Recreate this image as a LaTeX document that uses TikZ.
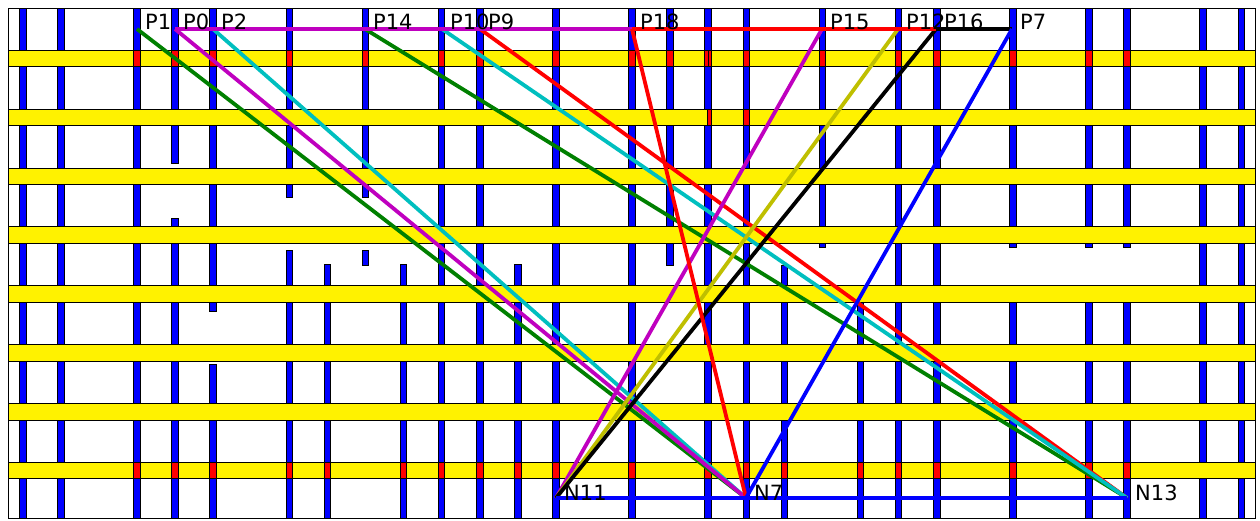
\documentclass[tikz,border=0pt]{standalone}
\usepackage{fontspec}
\setmainfont{DejaVu Sans}
\definecolor{mplg}{rgb}{0,0.5,0}
\definecolor{mplm}{rgb}{0.75,0,0.75}
\definecolor{mplc}{rgb}{0,0.75,0.75}
\definecolor{mply}{rgb}{0.75,0.75,0}
\tikzset{
  col/.style={draw=black, fill=blue, line width=0.8pt},
  bar/.style={draw=black, fill=yellow, line width=0.8pt},
  via/.style={draw=black, fill=red, line width=0.8pt},
  net/.style={line width=3.8pt},
  lbl/.style={anchor=base west, inner sep=0pt, font=\fontsize{21}{25}\selectfont},
}
\newcommand{\cx}[1]{22.7+38.08*#1}
\newcommand{\ry}[1]{58.5+58.85*#1}
\begin{document}
\begin{tikzpicture}[x=1pt,y=-1pt]
\useasboundingbox (0,0) rectangle (1260,520);
\fill[white] (0,0) rectangle (1260,520);
% columns
\foreach \k/\a/\b in {0/8/518,1/8/518,3/8/518,4/8/163,4/218/518,5/8/311,5/364/518,
  7/8/197,7/250/518,8/264/518,9/8/197,9/250/265,10/264/518,11/8/518,12/8/518,
  13/264/518,14/8/518,16/8/518,17/8/265,18/8/518,19/8/518,20/265/518,21/8/247,
  22/302/518,23/8/518,24/8/518,26/8/247,26/302/518,28/8/247,28/302/518,
  29/8/247,29/302/518,31/8/518,32/8/518}
  \draw[col] ({\cx{\k}-3.3},\a) rectangle ({\cx{\k}+3.3},\b);
% bars
\foreach \r in {0,...,7}
  \draw[bar] (8,{\ry{\r}-8.3}) rectangle (1255,{\ry{\r}+8.3});
% vias
\foreach \k in {3,4,5,7,9,11,12,14,16,17,18,19,21,23,24,26,28,29}
  \draw[via] ({\cx{\k}-3.3},{\ry{0}-8.3}) rectangle ({\cx{\k}+3.3},{\ry{0}+8.3});
\draw[line width=0.8pt] ({\cx{18}},{\ry{0}-8.3}) -- ({\cx{18}},{\ry{0}+8.3});
\draw[via] ({\cx{18}-0.8},{\ry{1}-8.3}) rectangle ({\cx{18}+3.3},{\ry{1}+8.3});
\draw[via] ({\cx{19}-3.3},{\ry{1}-8.3}) rectangle ({\cx{19}+3.3},{\ry{1}+8.3});
\foreach \k in {3,4,5,7,8,10,11,12,13,14,16,18,19,20,22,23,24,26,28,29}
  \draw[via] ({\cx{\k}-3.3},{\ry{7}-8.3}) rectangle ({\cx{\k}+3.3},{\ry{7}+8.3});
% frame
\draw[line width=1pt] (8,8) rectangle (1255,518);
% pins
\coordinate (P1) at (137,29);
\coordinate (P0) at (175,29);
\coordinate (P2) at (213,29);
\coordinate (P14) at (365,29);
\coordinate (P10) at (442,29);
\coordinate (P9) at (480,29);
\coordinate (P18) at (632,29);
\coordinate (P15) at (822,29);
\coordinate (P12) at (898,29);
\coordinate (P16) at (936,29);
\coordinate (P7) at (1012,29);
\coordinate (N11) at (556,498);
\coordinate (N7) at (746,498);
\coordinate (N13) at (1127,498);
% nets
\draw[net,mplg] (P1) -- (N7);
\draw[net,mplg] (P14) -- (N13);
\draw[net,red] (P9) -- (N13);
\draw[net,mplc] (P10) -- (N13);
\draw[net,mplc] (P2) -- (N7);
\draw[net,mplm] (P0) -- (N7);
\draw[net,mplm] (P0) -- (P18);
\draw[net,mplm] (P15) -- (N11);
\draw[net,mply] (P12) -- (N11);
\draw[net,black] (P16) -- (N11);
\draw[net,black] (P16) -- (P7);
\draw[net,red] (P18) -- (P16);
\draw[net,red] (P18) -- (N7);
\draw[net,blue] (P7) -- (N7);
\draw[net,blue] (N11) -- (N13);
% labels
\foreach \p in {P1,P0,P2,P14,P10,P9,P18,P15,P12,P16,P7}
  \node[lbl] (l\p) at ([xshift=8pt]\p) {\p};
\foreach \p in {N11,N7,N13}
  \node[lbl] (l\p) at ([xshift=8pt,yshift=-2pt]\p) {\p};
\end{tikzpicture}
\end{document}
